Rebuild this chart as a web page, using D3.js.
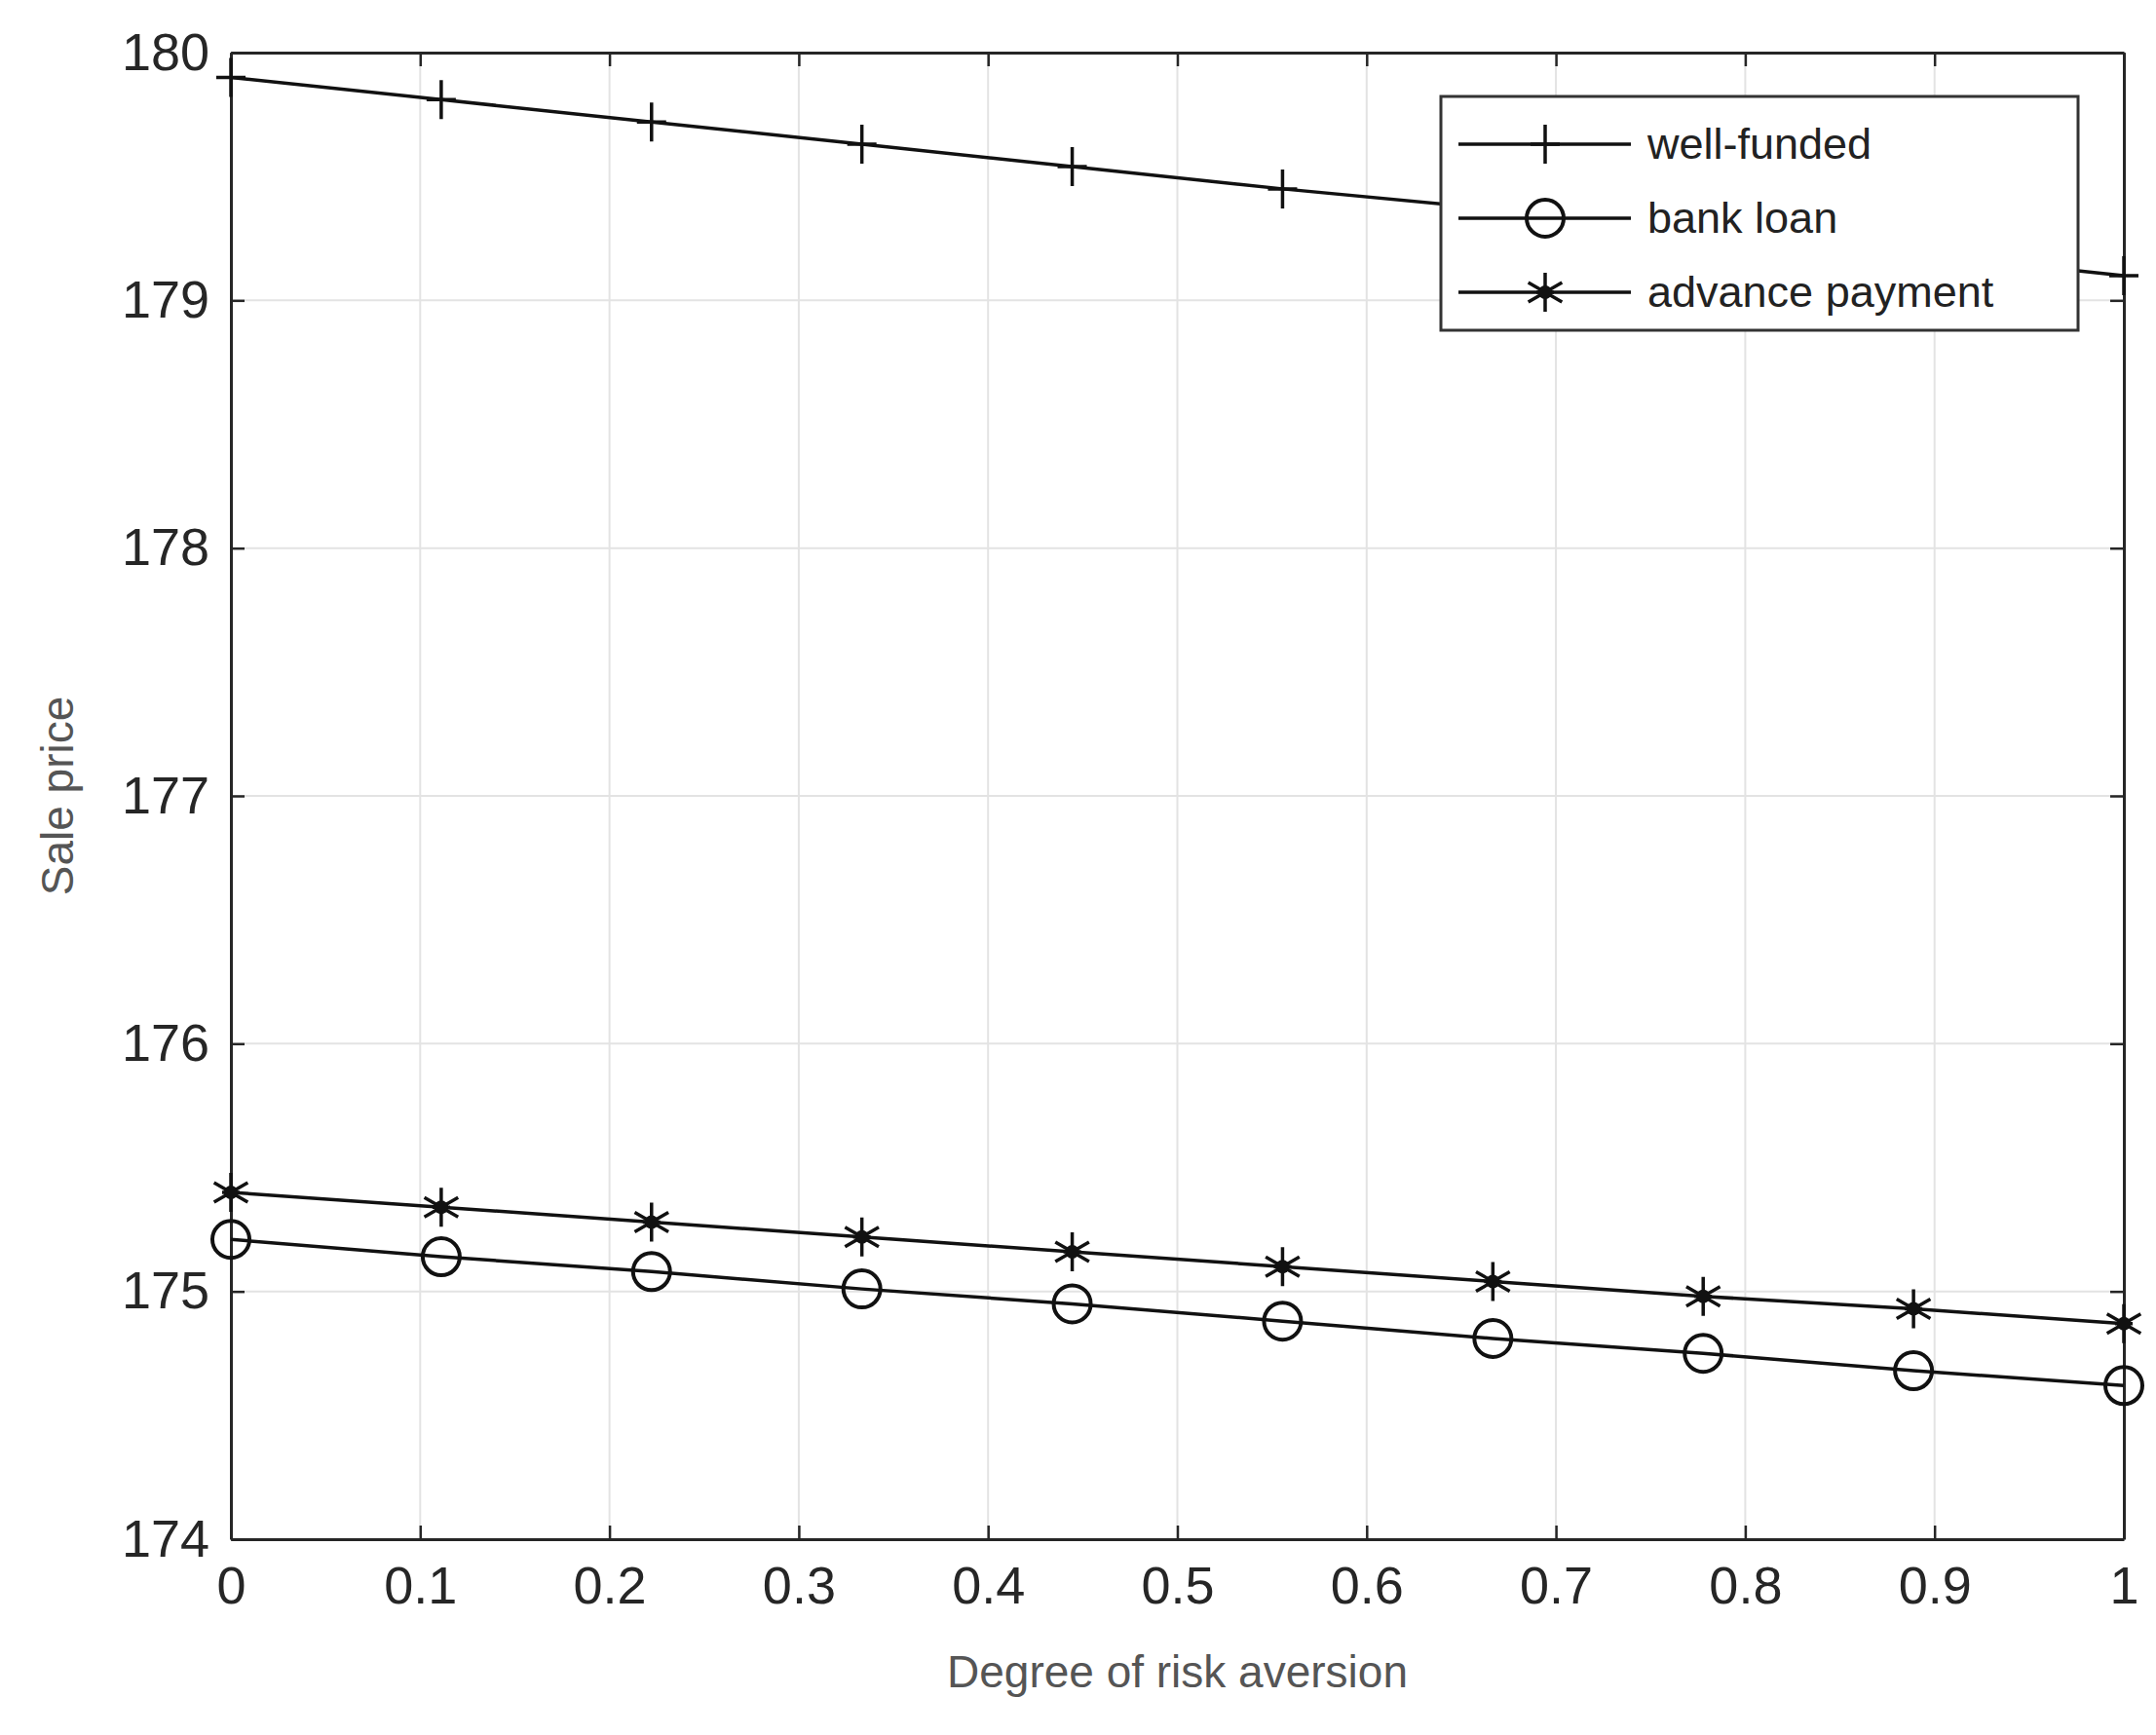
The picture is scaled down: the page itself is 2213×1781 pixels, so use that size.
<!DOCTYPE html>
<html><head><meta charset="utf-8">
<script src="https://cdn.jsdelivr.net/npm/d3@7"></script>
<style>body{margin:0;background:#fff}</style></head>
<body><svg id="c" width="2213" height="1781"></svg>
<script>
const xs = [0,1/9,2/9,3/9,4/9,5/9,6/9,7/9,8/9,1];
const wellFunded = [179.90,179.81,179.72,179.63,179.54,179.45,179.37,179.28,179.19,179.10];
const bankLoan = [175.21,175.14,175.08,175.01,174.95,174.88,174.81,174.75,174.68,174.62];
const advancePayment = [175.40,175.34,175.28,175.22,175.16,175.10,175.04,174.98,174.93,174.87];
const xTicks = [0,0.1,0.2,0.3,0.4,0.5,0.6,0.7,0.8,0.9,1];
const yTicks = [174,175,176,177,178,179,180];
const seriesNames = ["well-funded","bank loan","advance payment"];
const markers = ["plus","circle","star"];

const L=237,R=2180,T=54,B=1580;
const svg=d3.select("#c");
const x=d3.scaleLinear().domain([0,1]).range([L,R]);
const y=d3.scaleLinear().domain([174,180]).range([B,T]);
const g=svg.append("g");
g.selectAll(".gx").data(xTicks).enter().append("line").attr("x1",d=>x(d)).attr("x2",d=>x(d)).attr("y1",T).attr("y2",B).attr("stroke","#e3e3e3").attr("stroke-width",2);
g.selectAll(".gy").data(yTicks).enter().append("line").attr("y1",d=>y(d)).attr("y2",d=>y(d)).attr("x1",L).attr("x2",R).attr("stroke","#e3e3e3").attr("stroke-width",2);
const fmt=d=>d===0||d===1?String(d):d3.format(".1f")(d);
const ax=svg.append("g").attr("transform",`translate(0,${B})`).call(d3.axisBottom(x).tickValues(xTicks).tickFormat(fmt).tickSizeInner(-14).tickSizeOuter(0).tickPadding(28));
const ay=svg.append("g").attr("transform",`translate(${L},0)`).call(d3.axisLeft(y).tickValues(yTicks).tickFormat(d3.format("d")).tickSizeInner(-14).tickSizeOuter(0).tickPadding(22));
const axt=svg.append("g").attr("transform",`translate(0,${T})`).call(d3.axisTop(x).tickValues(xTicks).tickFormat("").tickSizeInner(-14).tickSizeOuter(0));
const ayr=svg.append("g").attr("transform",`translate(${R},0)`).call(d3.axisRight(y).tickValues(yTicks).tickFormat("").tickSizeInner(-14).tickSizeOuter(0));
[ax,ay,axt,ayr].forEach(a=>{a.selectAll("path").attr("stroke","#262626").attr("stroke-width",3);a.selectAll("line").attr("stroke","#262626").attr("stroke-width",2.5);a.selectAll("text").attr("fill","#262626").style("font-family","Liberation Sans, Arial").style("font-size","54px");});
svg.append("text").attr("x",(L+R)/2).attr("y",1732).attr("text-anchor","middle").attr("fill","#555").style("font-family","Liberation Sans, Arial").style("font-size","46px").text("Degree of risk aversion");
svg.append("text").attr("transform",`translate(75,${(T+B)/2}) rotate(-90)`).attr("text-anchor","middle").attr("fill","#555").style("font-family","Liberation Sans, Arial").style("font-size","46px").text("Sale price");

function drawMarker(sel,type,cx,cy){
  if(type==="plus"){sel.append("path").attr("d",`M${cx-15},${cy}H${cx+15}M${cx},${cy-20}V${cy+20}`).attr("stroke","#111").attr("stroke-width",3.5);}
  else if(type==="circle"){sel.append("circle").attr("cx",cx).attr("cy",cy).attr("r",19).attr("fill","none").attr("stroke","#111").attr("stroke-width",4);}
  else {let p="";[0,60,120].forEach(a=>{const r=a*Math.PI/180,dx=Math.sin(r)*20,dy=Math.cos(r)*20;p+=`M${cx-dx},${cy-dy}L${cx+dx},${cy+dy}`;});
    sel.append("path").attr("d",p+`M${cx-9},${cy}H${cx+9}`).attr("stroke","#111").attr("stroke-width",3.5);
    sel.append("circle").attr("cx",cx).attr("cy",cy).attr("r",7).attr("fill","#111");}
}
const data=[wellFunded,bankLoan,advancePayment];
const line=d3.line().x((d,i)=>x(xs[i])).y(d=>y(d));
data.forEach((s,k)=>{
  svg.append("path").attr("d",line(s)).attr("fill","none").attr("stroke","#111").attr("stroke-width",3.5);
  s.forEach((v,i)=>drawMarker(svg,markers[k],x(xs[i]),y(v)));
});
const lx=1479,ly=99,lw=654,lh=240;
svg.append("rect").attr("x",lx).attr("y",ly).attr("width",lw).attr("height",lh).attr("fill","#fff").attr("stroke","#333").attr("stroke-width",3);
seriesNames.forEach((n,k)=>{
  const yy=ly+49+k*76;
  svg.append("line").attr("x1",lx+18).attr("x2",lx+195).attr("y1",yy).attr("y2",yy).attr("stroke","#111").attr("stroke-width",3.5);
  drawMarker(svg,markers[k],lx+107,yy);
  svg.append("text").attr("x",lx+212).attr("y",yy+15).attr("fill","#222").style("font-family","Liberation Sans, Arial").style("font-size","45px").text(n);
});
</script></body></html>
